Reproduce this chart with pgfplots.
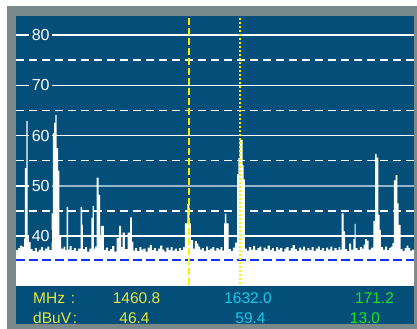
\documentclass[border=0pt]{standalone}
\usepackage{pgfplots}
\pgfplotsset{compat=1.18}
\usepackage{fontspec}
\setmainfont{Liberation Sans}
\definecolor{bgblue}{RGB}{4,78,122}
\definecolor{framegray}{RGB}{122,137,137}
\definecolor{lightgrid}{RGB}{145,182,205}
\definecolor{mkyellow}{RGB}{255,240,0}
\definecolor{txtyellow}{RGB}{230,230,60}
\definecolor{txtcyan}{RGB}{25,200,230}
\definecolor{txtgreen}{RGB}{25,230,25}
\definecolor{refblue}{RGB}{20,50,245}
\begin{document}
\begin{tikzpicture}
\fill[white] (0bp,0bp) rectangle (417bp,329bp);
\fill[framegray] (7bp,0bp) rectangle (417bp,323bp);
\fill[bgblue] (16bp,5bp) rectangle (414bp,313bp);
\begin{axis}[at={(16bp,43bp)}, anchor=south west, scale only axis,
  width=398bp, height=270bp, xmin=880, xmax=2216.1, ymin=30.05, ymax=83.8,
  axis line style={draw=none}, ticks=none, clip=true]
% grid
\foreach \v in {40,60,70,80}{
  \edef\tmp{\noexpand\draw[white, line width=1.6bp] (axis cs:880,\v) -- (axis cs:2216.1,\v);}\tmp
}
\draw[lightgrid, line width=1.6bp] (axis cs:880,50) -- (axis cs:2216.1,50);
\draw[white, line width=1.6bp] (axis cs:880,50) -- (axis cs:923.6,50);
\foreach \v in {45,55,65,75}{
  \edef\tmp{\noexpand\draw[white, line width=1.6bp, dash pattern=on 7.5bp off 5.5bp] (axis cs:880.3,\v) -- (axis cs:2216.1,\v);}\tmp
}
% spectrum
\addplot[const plot, fill=white, draw=none] coordinates {
(880,37.2)(886,37.6)(893,38.1)(900,37.9)(906.9,39.5)(910.2,53.5)(914.6,62.9)(919.3,39.9)(929.3,37.4)(936,37.0)(943,37.6)(950,36.9)(957,37.3)(964,37.8)(971,37.1)(978,37.5)(985,37.9)(992,37.2)
(999.2,44.5)(1004.2,60.5)(1008.2,62.5)(1012.4,64.1)(1016.0,57.5)(1021.0,53.0)(1025.5,40.0)(1031.1,37.5)(1040,37.9)(1046,37.2)(1050.2,45.8)(1054.6,37.3)(1060,38.0)(1067,37.2)(1074,37.6)(1081,37.0)(1088,37.5)
(1097.2,45.8)(1101.6,42.2)(1104.9,37.4)(1112,37.8)(1119,36.9)(1126,37.5)(1132.8,43.6)(1137.5,46.0)(1141.8,37.5)(1146,37.9)(1150.9,51.6)(1157.6,48.2)(1162.0,40.0)(1165.3,42.0)(1175.4,37.2)(1182,37.7)(1189,37.0)(1196,37.4)(1203,38.0)(1210,36.9)
(1218.0,39.6)(1225.8,42.0)(1232.5,37.8)(1238.2,40.7)(1245.9,37.4)(1255.0,40.7)(1262.7,43.7)(1269.4,38.9)(1273.8,37.1)(1280,37.6)(1287,37.0)(1294,37.8)(1301,37.3)(1308,37.5)(1315,36.9)(1322,37.7)(1329,38.2)(1336,37.2)(1343,37.6)(1350,37.0)(1357,37.5)(1364,38.1)(1371,37.3)(1378,36.9)(1385,37.7)(1392,37.2)(1399,37.8)(1406,37.1)(1413,37.5)(1420,37.0)(1427,37.6)(1434,37.2)(1441,37.8)
(1447.3,42.5)(1455.0,46.4)(1462.0,42.5)(1467.4,39.2)(1474.2,37.5)(1480.9,39.0)(1487.6,38.5)(1492,37.9)(1497.7,37.3)(1504,37.6)(1511,37.0)(1518,37.9)(1525,37.2)(1532,37.5)(1539,37.8)(1546,37.1)(1553,37.6)(1560,37.3)(1567,37.8)(1573,37.1)
(1578.3,42.5)(1581.6,44.4)(1586.0,42.5)(1594.0,37.4)(1601,37.0)(1608,37.7)(1615.2,38.7)(1621.9,52.3)(1626.3,55.5)(1631.0,59.4)(1635.3,59.2)(1641.0,54.1)(1644.4,51.3)(1648.7,37.5)
(1655,37.1)(1662,37.8)(1669,37.3)(1676,38.0)(1683,37.2)(1690,37.6)(1697,37.9)(1704,37.0)(1711,37.7)(1718,37.4)(1725,38.1)(1732,37.2)(1739,37.6)(1746,37.0)(1753,37.8)(1760,37.3)(1767,37.6)(1774,36.9)(1781,37.5)(1788,37.8)(1795,37.1)(1802,37.6)(1809,38.2)(1816,37.4)(1823,37.0)(1830,37.7)(1837,37.3)(1844,37.9)(1851,37.1)(1858,37.6)(1865,37.2)(1872,37.8)(1879,37.0)(1886,37.5)(1893,37.9)(1900,37.2)(1907,37.6)(1914,37.0)(1921,37.7)(1928,37.3)(1935,37.9)(1942,37.1)(1949,37.6)(1956,37.2)(1963,37.8)(1968,37.3)
(1973.4,44.5)(1980.1,40.9)(1984.5,37.4)(1992,37.0)(1997.9,38.5)(2004.6,37.3)(2012.3,39.4)(2016.4,42.4)(2020.4,37.6)(2027,37.2)(2034,37.8)(2041,37.5)(2047.2,38.3)(2051.6,39.4)(2058.3,39.1)(2064.0,37.3)(2072,37.7)
(2079.5,43.0)(2085.2,56.3)(2090.9,55.6)(2096.3,44.2)(2101.0,41.2)(2105.3,37.8)(2112,37.3)(2119,37.9)(2126,37.2)(2133,37.6)(2138,37.9)(2143.3,38.6)(2148.9,51.1)(2154.6,52.1)(2160.0,46.5)(2164.7,42.2)(2171.4,37.4)(2178,37.0)(2185,37.6)(2191.6,38.1)(2196.9,37.6)(2203,37.1)(2210,37.3)(2216.1,37.3)
} \closedcycle;
% reference level
\draw[refblue, line width=2bp, dash pattern=on 8.5bp off 4.5bp] (axis cs:880.5,35.2) -- (axis cs:2216.1,35.2);
% markers
\draw[mkyellow, line width=2bp, dash pattern=on 6.5bp off 3.5bp] (axis cs:1460.8,83.4) -- (axis cs:1460.8,30.05);
\draw[mkyellow, line width=2bp, dash pattern=on 2bp off 2bp] (axis cs:1632.0,83.4) -- (axis cs:1632.0,30.05);
% level labels
\foreach \v in {40,50,60,70,80}{
  \edef\tmp{\noexpand\node[fill=bgblue, text=white, inner xsep=2.5bp, inner ysep=0.5bp, font=\noexpand\fontsize{16bp}{18bp}\noexpand\selectfont] at (axis cs:963,\v) {\v};}\tmp
}
\end{axis}
\begin{scope}[every node/.style={font=\fontsize{15.5bp}{17bp}\selectfont, inner sep=0pt}]
\node[anchor=base west, text=txtyellow] at (33bp,25.7bp) {MHz};
\node[anchor=base, text=txtyellow] at (73bp,25.7bp) {:};
\node[anchor=base west, text=txtyellow] at (33bp,5.7bp) {dBuV};
\node[anchor=base, text=txtyellow] at (75bp,5.7bp) {:};
\node[anchor=base, text=txtyellow] at (136.5bp,25.7bp) {1460.8};
\node[anchor=base, text=txtyellow] at (134.5bp,5.7bp) {46.4};
\node[anchor=base, text=txtcyan] at (248bp,25.7bp) {1632.0};
\node[anchor=base, text=txtcyan] at (250.5bp,5.7bp) {59.4};
\node[anchor=base, text=txtgreen] at (374.5bp,25.7bp) {171.2};
\node[anchor=base, text=txtgreen] at (365bp,5.7bp) {13.0};
\end{scope}
\end{tikzpicture}
\end{document}
